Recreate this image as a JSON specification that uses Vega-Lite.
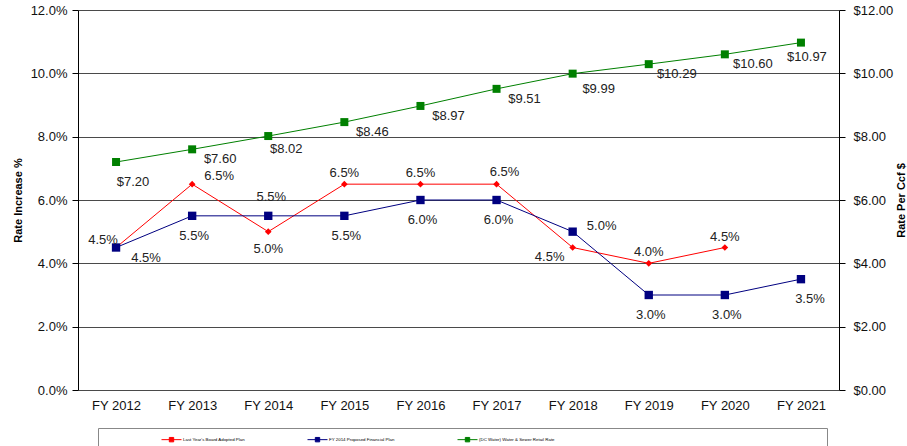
{
  "$schema": "https://vega.github.io/schema/vega-lite/v6.json",
  "width": 761,
  "height": 380,
  "autosize": {"type": "none"},
  "padding": {"left": 78, "top": 10, "right": 68, "bottom": 56},
  "config": {
    "font": "Liberation Sans",
    "view": {"stroke": null},
    "text": {"font": "Liberation Sans", "fontSize": 13, "color": "#222"}
  },
  "data": {
    "values": [
      {"year": "FY 2012", "series": "Last Year's Board Adopted Plan", "value": 0.045},
      {"year": "FY 2013", "series": "Last Year's Board Adopted Plan", "value": 0.065},
      {"year": "FY 2014", "series": "Last Year's Board Adopted Plan", "value": 0.05},
      {"year": "FY 2015", "series": "Last Year's Board Adopted Plan", "value": 0.065},
      {"year": "FY 2016", "series": "Last Year's Board Adopted Plan", "value": 0.065},
      {"year": "FY 2017", "series": "Last Year's Board Adopted Plan", "value": 0.065},
      {"year": "FY 2018", "series": "Last Year's Board Adopted Plan", "value": 0.045},
      {"year": "FY 2019", "series": "Last Year's Board Adopted Plan", "value": 0.04},
      {"year": "FY 2020", "series": "Last Year's Board Adopted Plan", "value": 0.045},
      {"year": "FY 2012", "series": "FY 2014 Proposed Financial Plan", "value": 0.045},
      {"year": "FY 2013", "series": "FY 2014 Proposed Financial Plan", "value": 0.055},
      {"year": "FY 2014", "series": "FY 2014 Proposed Financial Plan", "value": 0.055},
      {"year": "FY 2015", "series": "FY 2014 Proposed Financial Plan", "value": 0.055},
      {"year": "FY 2016", "series": "FY 2014 Proposed Financial Plan", "value": 0.06},
      {"year": "FY 2017", "series": "FY 2014 Proposed Financial Plan", "value": 0.06},
      {"year": "FY 2018", "series": "FY 2014 Proposed Financial Plan", "value": 0.05},
      {"year": "FY 2019", "series": "FY 2014 Proposed Financial Plan", "value": 0.03},
      {"year": "FY 2020", "series": "FY 2014 Proposed Financial Plan", "value": 0.03},
      {"year": "FY 2021", "series": "FY 2014 Proposed Financial Plan", "value": 0.035},
      {"year": "FY 2012", "series": "(DC Water) Water & Sewer Retail Rate", "value": 7.20},
      {"year": "FY 2013", "series": "(DC Water) Water & Sewer Retail Rate", "value": 7.60},
      {"year": "FY 2014", "series": "(DC Water) Water & Sewer Retail Rate", "value": 8.02},
      {"year": "FY 2015", "series": "(DC Water) Water & Sewer Retail Rate", "value": 8.46},
      {"year": "FY 2016", "series": "(DC Water) Water & Sewer Retail Rate", "value": 8.97},
      {"year": "FY 2017", "series": "(DC Water) Water & Sewer Retail Rate", "value": 9.51},
      {"year": "FY 2018", "series": "(DC Water) Water & Sewer Retail Rate", "value": 9.99},
      {"year": "FY 2019", "series": "(DC Water) Water & Sewer Retail Rate", "value": 10.29},
      {"year": "FY 2020", "series": "(DC Water) Water & Sewer Retail Rate", "value": 10.60},
      {"year": "FY 2021", "series": "(DC Water) Water & Sewer Retail Rate", "value": 10.97}
    ]
  },
  "encoding": {
    "x": {
      "field": "year",
      "type": "ordinal",
      "scale": {"type": "point", "padding": 0.5},
      "axis": {
        "title": null,
        "labelAngle": 0,
        "ticks": false,
        "domain": false,
        "labelFontSize": 13,
        "labelColor": "#111",
        "labelPadding": 9
      }
    }
  },
  "layer": [
    {
      "transform": [{"filter": {"field": "series", "oneOf": ["Last Year's Board Adopted Plan", "FY 2014 Proposed Financial Plan"]}}],
      "encoding": {
        "y": {
          "field": "value",
          "type": "quantitative",
          "scale": {"domain": [0, 0.12], "nice": false, "zero": true},
          "axis": {
            "orient": "left",
            "format": ".1%",
            "values": [0, 0.02, 0.04, 0.06, 0.08, 0.1, 0.12],
            "grid": true,
            "gridColor": "#4a4a4a",
            "gridOpacity": 1,
            "gridWidth": 1,
            "domainColor": "#000",
            "domainWidth": 1,
            "tickColor": "#000",
            "tickSize": 6,
            "labelFontSize": 13,
            "labelColor": "#111",
            "labelPadding": 5,
            "title": "Rate Increase %",
            "titleFont": "Liberation Sans",
            "titleFontWeight": "bold",
            "titleFontSize": 11,
            "titleColor": "#000",
            "titlePadding": 7
          }
        }
      },
      "layer": [
        {
          "mark": {"type": "line", "strokeWidth": 1},
          "encoding": {
            "color": {
              "field": "series",
              "type": "nominal",
              "scale": {
                "domain": ["Last Year's Board Adopted Plan", "FY 2014 Proposed Financial Plan", "(DC Water) Water & Sewer Retail Rate"],
                "range": ["#FF0000", "#000080", "#008000"]
              },
              "legend": {
                "orient": "none",
                "legendX": 20,
                "legendY": 418,
                "direction": "horizontal",
                "title": "\u00a0",
                "titleOrient": "right",
                "titleAnchor": "start",
                "titlePadding": 271,
                "titleFontSize": 20,
                "symbolType": "M-1,0H1M-0.22,-0.22H0.22V0.22H-0.22Z",
                "symbolSize": 400,
                "symbolStrokeWidth": 1,
                "symbolFillColor": "#fff",
                "labelFontSize": 4.4,
                "labelFont": "Liberation Sans",
                "labelColor": "#000",
                "labelOffset": 1,
                "columnPadding": 0,
                "padding": 1,
                "symbolOffset": 62,
                "strokeColor": "#888",
                "fillColor": "#fff"
              }
            }
          }
        },
        {
          "transform": [{"filter": {"field": "series", "equal": "Last Year's Board Adopted Plan"}}],
          "mark": {"type": "point", "shape": "diamond", "size": 45, "filled": true, "opacity": 1},
          "encoding": {"color": {"field": "series", "type": "nominal"}}
        },
        {
          "transform": [{"filter": {"field": "series", "equal": "FY 2014 Proposed Financial Plan"}}],
          "mark": {"type": "point", "shape": "square", "size": 70, "filled": true, "opacity": 1},
          "encoding": {"color": {"field": "series", "type": "nominal"}}
        },
        {
          "transform": [{"filter": {"and": [{"field": "series", "equal": "Last Year's Board Adopted Plan"}, {"field": "year", "oneOf": ["FY 2015", "FY 2016", "FY 2019", "FY 2020"]}]}}],
          "mark": {"type": "text", "dy": -11},
          "encoding": {"text": {"field": "value", "format": ".1%"}}
        },
        {
          "transform": [{"filter": {"and": [{"field": "series", "equal": "Last Year's Board Adopted Plan"}, {"field": "year", "equal": "FY 2017"}]}}],
          "mark": {"type": "text", "dx": 8, "dy": -12},
          "encoding": {"text": {"field": "value", "format": ".1%"}}
        },
        {
          "transform": [{"filter": {"and": [{"field": "series", "equal": "Last Year's Board Adopted Plan"}, {"field": "year", "equal": "FY 2013"}]}}],
          "mark": {"type": "text", "dx": 27, "dy": -8},
          "encoding": {"text": {"field": "value", "format": ".1%"}}
        },
        {
          "transform": [{"filter": {"and": [{"field": "series", "equal": "Last Year's Board Adopted Plan"}, {"field": "year", "equal": "FY 2012"}]}}],
          "mark": {"type": "text", "dx": -13, "dy": -8},
          "encoding": {"text": {"field": "value", "format": ".1%"}}
        },
        {
          "transform": [{"filter": {"and": [{"field": "series", "equal": "Last Year's Board Adopted Plan"}, {"field": "year", "equal": "FY 2014"}]}}],
          "mark": {"type": "text", "dy": 17},
          "encoding": {"text": {"field": "value", "format": ".1%"}}
        },
        {
          "transform": [{"filter": {"and": [{"field": "series", "equal": "Last Year's Board Adopted Plan"}, {"field": "year", "equal": "FY 2018"}]}}],
          "mark": {"type": "text", "dx": -23, "dy": 9},
          "encoding": {"text": {"field": "value", "format": ".1%"}}
        },
        {
          "transform": [{"filter": {"and": [{"field": "series", "equal": "FY 2014 Proposed Financial Plan"}, {"field": "year", "oneOf": ["FY 2013", "FY 2015", "FY 2016", "FY 2017", "FY 2019", "FY 2020"]}]}}],
          "mark": {"type": "text", "dx": 2, "dy": 20},
          "encoding": {"text": {"field": "value", "format": ".1%"}}
        },
        {
          "transform": [{"filter": {"and": [{"field": "series", "equal": "FY 2014 Proposed Financial Plan"}, {"field": "year", "equal": "FY 2021"}]}}],
          "mark": {"type": "text", "dx": 9, "dy": 20},
          "encoding": {"text": {"field": "value", "format": ".1%"}}
        },
        {
          "transform": [{"filter": {"and": [{"field": "series", "equal": "FY 2014 Proposed Financial Plan"}, {"field": "year", "equal": "FY 2012"}]}}],
          "mark": {"type": "text", "dx": 30, "dy": 10},
          "encoding": {"text": {"field": "value", "format": ".1%"}}
        },
        {
          "transform": [{"filter": {"and": [{"field": "series", "equal": "FY 2014 Proposed Financial Plan"}, {"field": "year", "equal": "FY 2014"}]}}],
          "mark": {"type": "text", "dx": 3, "dy": -19},
          "encoding": {"text": {"field": "value", "format": ".1%"}}
        },
        {
          "transform": [{"filter": {"and": [{"field": "series", "equal": "FY 2014 Proposed Financial Plan"}, {"field": "year", "equal": "FY 2018"}]}}],
          "mark": {"type": "text", "dx": 29, "dy": -6},
          "encoding": {"text": {"field": "value", "format": ".1%"}}
        }
      ]
    },
    {
      "transform": [{"filter": {"field": "series", "equal": "(DC Water) Water & Sewer Retail Rate"}}],
      "encoding": {
        "y": {
          "field": "value",
          "type": "quantitative",
          "scale": {"domain": [0, 12], "nice": false, "zero": true},
          "axis": {
            "orient": "right",
            "format": "$.2f",
            "values": [0, 2, 4, 6, 8, 10, 12],
            "grid": false,
            "domainColor": "#000",
            "domainWidth": 1,
            "tickColor": "#000",
            "tickSize": 6,
            "labelFontSize": 13,
            "labelColor": "#111",
            "labelPadding": 8,
            "title": "Rate Per Ccf $",
            "titleAngle": 270,
            "titleFont": "Liberation Sans",
            "titleFontWeight": "bold",
            "titleFontSize": 11,
            "titleColor": "#000",
            "titlePadding": 14
          }
        }
      },
      "layer": [
        {
          "mark": {"type": "line", "strokeWidth": 1},
          "encoding": {"color": {"field": "series", "type": "nominal"}}
        },
        {
          "mark": {"type": "point", "shape": "square", "size": 64, "filled": true, "opacity": 1},
          "encoding": {"color": {"field": "series", "type": "nominal"}}
        },
        {
          "transform": [{"filter": {"field": "year", "oneOf": ["FY 2013", "FY 2015", "FY 2016", "FY 2017", "FY 2019", "FY 2020"]}}],
          "mark": {"type": "text", "dx": 28, "dy": 10},
          "encoding": {"text": {"field": "value", "format": "$.2f"}}
        },
        {
          "transform": [{"filter": {"field": "year", "equal": "FY 2018"}}],
          "mark": {"type": "text", "dx": 26, "dy": 15},
          "encoding": {"text": {"field": "value", "format": "$.2f"}}
        },
        {
          "transform": [{"filter": {"field": "year", "equal": "FY 2012"}}],
          "mark": {"type": "text", "dx": 17, "dy": 20},
          "encoding": {"text": {"field": "value", "format": "$.2f"}}
        },
        {
          "transform": [{"filter": {"field": "year", "equal": "FY 2014"}}],
          "mark": {"type": "text", "dx": 18, "dy": 13},
          "encoding": {"text": {"field": "value", "format": "$.2f"}}
        },
        {
          "transform": [{"filter": {"field": "year", "equal": "FY 2021"}}],
          "mark": {"type": "text", "dx": 6, "dy": 14},
          "encoding": {"text": {"field": "value", "format": "$.2f"}}
        }
      ]
    }
  ],
  "resolve": {"scale": {"y": "independent"}}
}
